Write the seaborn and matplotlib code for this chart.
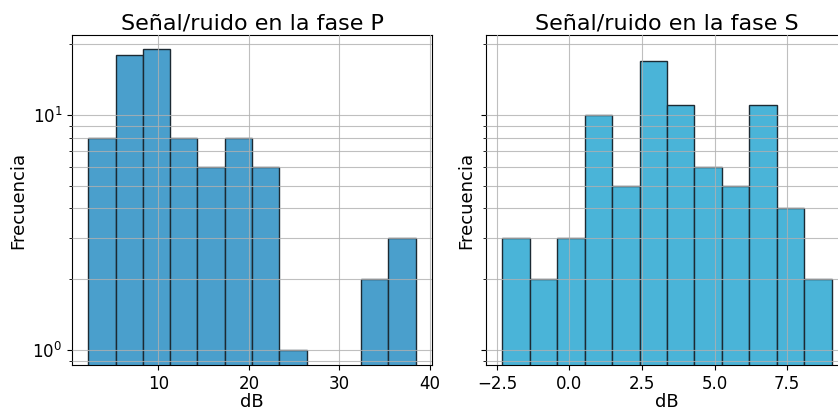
import matplotlib
matplotlib.use("Agg")
import matplotlib.pyplot as plt
from matplotlib.ticker import MultipleLocator
import seaborn as sns
import numpy as np
import pandas as pd

# Data
p_edges = [2.28, 5.29, 8.30, 11.32, 14.33, 17.34, 20.35, 23.36, 26.38, 29.39, 32.40, 35.41, 38.42]
p_counts = [8, 18, 19, 8, 6, 8, 6, 1, 0, 0, 2, 3]
s_edges = [-2.31, -1.365, -0.42, 0.525, 1.47, 2.415, 3.36, 4.305, 5.25, 6.195, 7.14, 8.085, 9.03]
s_counts = [3, 2, 3, 10, 5, 17, 11, 6, 5, 11, 4, 2]
titles = ["Señal/ruido en la fase P", "Señal/ruido en la fase S"]
colors = ["#4A9FCC", "#4AB4D8"]

fig = plt.figure(figsize=(8.38, 4.08), dpi=100)
W, H = 838, 408
ax1 = fig.add_axes([72 / W, (H - 365) / H, 360 / W, 330 / H])
ax2 = fig.add_axes([486 / W, (H - 365) / H, 362 / W, 330 / H], sharey=ax1)

for ax, edges, counts, title, color in [
    (ax1, p_edges, p_counts, titles[0], colors[0]),
    (ax2, s_edges, s_counts, titles[1], colors[1]),
]:
    e = np.array(edges)
    df = pd.DataFrame({"dB": (e[:-1] + e[1:]) / 2, "n": counts})
    sns.histplot(data=df, x="dB", weights="n", bins=list(edges), ax=ax, color=color,
                 alpha=1, edgecolor="#1c2a33", linewidth=1.0)
    ax.set_yscale("log")
    ax.set_title(title, fontsize=16, pad=4)
    ax.set_xlabel("dB", fontsize=13, labelpad=0)
    ax.set_ylabel("Frecuencia", fontsize=13, labelpad=4)
    ax.grid(True, which="both", color="#b0b0b0", linewidth=0.8, alpha=0.8)
    ax.tick_params(axis="both", which="major", labelsize=12)
    ax.set_axisbelow(False)

ax1.xaxis.set_major_locator(MultipleLocator(10))
ax2.xaxis.set_major_locator(MultipleLocator(2.5))
ax1.set_ylim(0.863, 21.9)
ax2.tick_params(axis="y", which="both", labelleft=False)

fig.savefig("out.png", dpi=100)
